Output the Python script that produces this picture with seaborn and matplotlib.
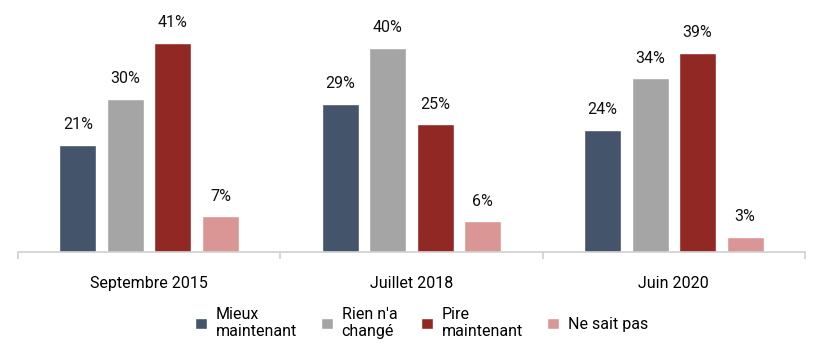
import matplotlib
matplotlib.use("Agg")
import matplotlib.pyplot as plt
import seaborn as sns
import pandas as pd

periods = ["Septembre 2015", "Juillet 2018", "Juin 2020"]
answers = ["Mieux\nmaintenant", "Rien n'a\nchangé", "Pire\nmaintenant", "Ne sait pas"]
mieux = [21, 29, 24]
rien = [30, 40, 34]
pire = [41, 25, 39]
nsp = [7, 6, 3]
colors = ["#44546A", "#A5A5A5", "#922823", "#DA9694"]

rows = []
for i, p in enumerate(periods):
    for a, vals in zip(answers, [mieux, rien, pire, nsp]):
        rows.append({"period": p, "answer": a, "value": vals[i]})
df = pd.DataFrame(rows)

sns.set_theme(style="white")
plt.rcParams["font.family"] = ["Roboto", "DejaVu Sans"]

fig = plt.figure(figsize=(8.15, 3.49), dpi=100)
ax = fig.add_axes([18/815, 1-252/349, (805-18)/815, (252-7)/349])

sns.barplot(data=df, x="period", y="value", hue="answer", order=periods,
            hue_order=answers, palette=colors, width=0.725, gap=0.22,
            saturation=1, ax=ax, legend=True)

for c in ax.containers:
    ax.bar_label(c, labels=[f"{v:.0f}%" for v in c.datavalues], padding=9,
                 fontsize=11.5, color="#111111")

ax.set_ylim(0, 48)
ax.set_xlim(-0.5, 2.5)
ax.set_xlabel("")
ax.set_ylabel("")
ax.set_yticks([])
for s in ["top", "right", "left"]:
    ax.spines[s].set_visible(False)
ax.spines["bottom"].set_color("#D0D0D0")
ax.spines["bottom"].set_linewidth(1.2)
ax.set_xticks([-0.5, 0.5, 1.5, 2.5], minor=True)
ax.tick_params(axis="x", which="minor", length=5, color="#D0D0D0", width=1.2, direction="out", bottom=True)
ax.tick_params(axis="x", which="major", length=0, pad=17, labelsize=11.5, labelcolor="#000000")

h, l = ax.get_legend_handles_labels()
ax.get_legend().remove()
leg = fig.legend(h, l, loc="center", bbox_to_anchor=(0.5 + 14/815, 1-323/349), ncol=4, frameon=False,
                 fontsize=11.5, handlelength=0.75, handleheight=0.75, handletextpad=0.55,
                 columnspacing=1.5, labelcolor="#000000")
for t in leg.get_texts():
    t.set_linespacing(1.15)

fig.savefig("out.png", dpi=100)
